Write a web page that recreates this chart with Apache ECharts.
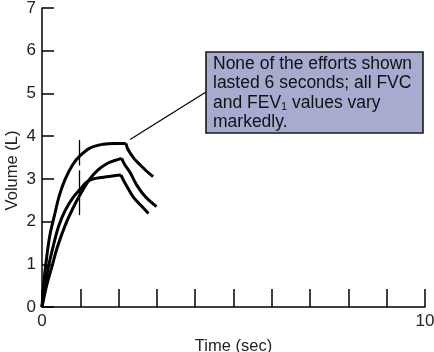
<!DOCTYPE html>
<html>
<head>
<meta charset="utf-8">
<script src="https://cdn.jsdelivr.net/npm/echarts@6/dist/echarts.min.js"></script>
<style>
  html, body { margin: 0; padding: 0; background: #fff; }
  #chart { width: 434px; height: 352px; }
</style>
</head>
<body>
<div id="chart"></div>
<script>
/* spirometry volume-time curves */

// effort A (highest, ~3.8 L)
var riseTimeA = [0, 0.05, 0.1, 0.2, 0.34, 0.45, 0.6, 0.8, 0.97, 1.25, 1.6, 1.9, 2.19];
var riseVolA  = [0, 0.6, 1.0, 1.65, 2.2, 2.6, 2.98, 3.33, 3.52, 3.72, 3.81, 3.83, 3.83];
var fallTimeA = [2.19, 2.25, 2.4, 2.56, 2.72, 2.9];
var fallVolA  = [3.83, 3.68, 3.48, 3.33, 3.19, 3.05];

// effort B (peak ~3.5 L)
var riseTimeB = [0, 0.12, 0.26, 0.4, 0.6, 0.8, 1.0, 1.25, 1.45, 1.7, 1.9, 2.08];
var riseVolB  = [0, 0.5, 0.95, 1.4, 1.9, 2.3, 2.64, 3.0, 3.2, 3.36, 3.43, 3.48];
var fallTimeB = [2.08, 2.15, 2.3, 2.47, 2.7, 2.99];
var fallVolB  = [3.48, 3.35, 3.15, 2.86, 2.58, 2.35];

// effort C (plateau ~3.1 L)
var riseTimeC = [0, 0.08, 0.17, 0.3, 0.43, 0.6, 0.8, 1.0, 1.15, 1.3, 1.6, 2.06];
var riseVolC  = [0, 0.5, 0.95, 1.45, 1.88, 2.25, 2.55, 2.76, 2.91, 2.99, 3.04, 3.09];
var fallTimeC = [2.06, 2.12, 2.2, 2.38, 2.58, 2.78];
var fallVolC  = [3.09, 2.98, 2.85, 2.58, 2.38, 2.19];

// 1-second marker (two pieces with a gap)
var markerTime = 0.97;
var markerPieces = [[3.91, 3.31], [3.2, 2.15]];

var xTickLabels = ['0', '10'];
var yTicks = [0, 1, 2, 3, 4, 5, 6, 7];

var noteLines = [
    'None of the efforts shown',
    'lasted 6 seconds; all FVC',
    'and FEV{sub|1} values vary',
    'markedly.'
];
var notePoint = [2.3, 3.92];

function pairs(ts, vs) {
    var out = [];
    for (var i = 0; i < ts.length; i++) out.push([ts[i], vs[i]]);
    return out;
}

var FONT = '"Liberation Sans", Arial, sans-serif';

var chart = echarts.init(document.getElementById('chart'));

function curve(ts, vs) {
    return {
        type: 'line',
        data: pairs(ts, vs),
        smooth: 0.35,
        symbol: 'none',
        lineStyle: { color: '#000', width: 3 },
        z: 3
    };
}

var series = [
    curve(riseTimeA, riseVolA), curve(fallTimeA, fallVolA),
    curve(riseTimeB, riseVolB), curve(fallTimeB, fallVolB),
    curve(riseTimeC, riseVolC), curve(fallTimeC, fallVolC)
];

var markData = [];
for (var i = 0; i < markerPieces.length; i++) {
    markData.push([
        { coord: [markerTime, markerPieces[i][0]] },
        { coord: [markerTime, markerPieces[i][1]] }
    ]);
}
series[0].markLine = {
    silent: true,
    symbol: 'none',
    label: { show: false },
    lineStyle: { color: '#000', width: 1.3, type: 'solid' },
    data: markData
};

var option = {
    animation: false,
    grid: { left: 42, right: 9, top: 8, bottom: 45, outerBoundsMode: 'none', containLabel: false },
    xAxis: {
        type: 'value',
        min: 0, max: 10, interval: 1,
        name: 'Time (sec)',
        nameLocation: 'middle',
        nameGap: 31,
        nameMoveOverlap: false,
        nameTextStyle: { fontFamily: FONT, fontSize: 16.5, color: '#222' },
        axisLine: { lineStyle: { color: '#000', width: 1.5 } },
        axisTick: { inside: true, length: 18, lineStyle: { color: '#000', width: 1.5 } },
        axisLabel: {
            fontFamily: FONT, fontSize: 17, color: '#222', margin: 6,
            formatter: function (v) {
                return xTickLabels.indexOf(String(v)) >= 0 ? String(v) : '';
            }
        },
        splitLine: { show: false }
    },
    yAxis: {
        type: 'value',
        min: 0, max: 7, interval: 1,
        name: 'Volume (L)',
        nameLocation: 'middle',
        nameGap: 21,
        nameMoveOverlap: false,
        nameTextStyle: { fontFamily: FONT, fontSize: 16.5, color: '#222', padding: [0, 26, 0, 0] },
        axisLine: { show: true, lineStyle: { color: '#000', width: 1.5 } },
        axisTick: { show: true, inside: true, length: 12, lineStyle: { color: '#000', width: 1.5 } },
        axisLabel: {
            fontFamily: FONT, fontSize: 17, color: '#222', margin: 6,
            formatter: function (v) { return yTicks.indexOf(v) >= 0 ? String(v) : ''; }
        },
        splitLine: { show: false }
    },
    series: series
};

chart.setOption(option);

// annotation box + leader line
var p = chart.convertToPixel({ gridIndex: 0 }, notePoint);
var box = { x: 206, y: 52, w: 217, h: 81 };
chart.setOption({
    graphic: [
        {
            type: 'line',
            shape: { x1: p[0], y1: p[1], x2: box.x, y2: box.y + 40 },
            style: { stroke: '#000', lineWidth: 1.2 },
            z: 10
        },
        {
            type: 'rect',
            shape: { x: box.x, y: box.y, width: box.w, height: box.h },
            style: { fill: '#a7abcf', stroke: '#1a1a1a', lineWidth: 1.6 },
            z: 10
        },
        {
            type: 'text',
            x: box.x + 7,
            y: box.y + 2,
            style: {
                text: noteLines.join('\n'),
                fontFamily: FONT,
                fontSize: 17.5,
                lineHeight: 19.5,
                fill: '#111',
                rich: {
                    sub: { fontSize: 11, fontFamily: FONT, fill: '#111', padding: [8, 0, 0, 0] }
                }
            },
            z: 11
        }
    ]
});
</script>
</body>
</html>
